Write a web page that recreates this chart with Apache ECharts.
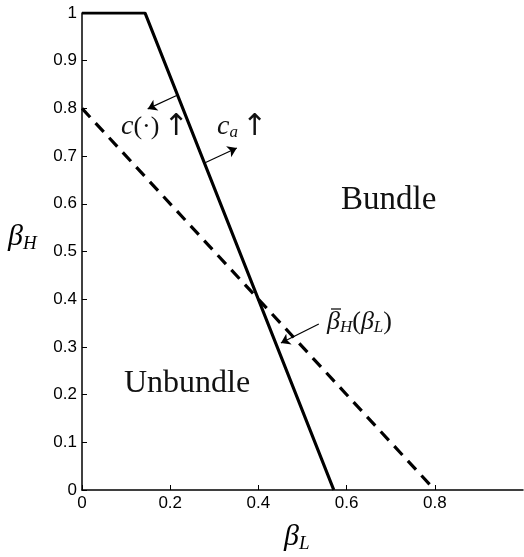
<!DOCTYPE html>
<html>
<head>
<meta charset="utf-8">
<script src="https://cdn.jsdelivr.net/npm/echarts@6/dist/echarts.min.js"></script>
<style>
  html, body { margin: 0; padding: 0; background: #fff; }
  #main { width: 524px; height: 557px; }
</style>
</head>
<body>
<div id="main"></div>
<script>
// threshold curves (beta_L, beta_H)
var solidCurve = [[0, 1], [0.143, 1], [0.571, 0]];
var dashedCurve = [[0, 0.8], [0.8, 0]];
// annotation arrows, from -> to, in data units
var arrowCost = [[0.217, 0.828], [0.149, 0.799]];
var arrowCa = [[0.279, 0.686], [0.351, 0.717]];
var arrowBar = [[0.537, 0.348], [0.451, 0.308]];

var serif = "'Liberation Serif', 'DejaVu Serif', serif";
var sans = "'Liberation Sans', Arial, sans-serif";
var ink = "#111";

var chart = echarts.init(document.getElementById("main"));

function arrow(a) {
  return [{ coord: a[0] }, { coord: a[1] }];
}

function tickFmt(v) {
  return String(+v.toFixed(1));
}

var upArrow = { fontSize: 30, fontFamily: "'DejaVu Sans', sans-serif", fill: ink, padding: [0, 0, 0, 4] };

chart.setOption({
  animation: false,
  grid: { left: 82, top: 13, right: 1, bottom: 67 },
  xAxis: {
    type: "value",
    min: 0,
    max: 1,
    interval: 0.2,
    axisLine: { lineStyle: { color: "#000", width: 1.5 } },
    axisTick: { inside: true, length: 5, lineStyle: { color: "#000" } },
    axisLabel: {
      color: "#000",
      fontFamily: sans,
      fontSize: 17,
      margin: 5,
      showMaxLabel: false,
      formatter: tickFmt
    },
    splitLine: { show: false }
  },
  yAxis: {
    type: "value",
    min: 0,
    max: 1,
    interval: 0.1,
    axisLine: { show: true, lineStyle: { color: "#000", width: 1.5 } },
    axisTick: { show: true, inside: true, length: 5, lineStyle: { color: "#000" } },
    axisLabel: {
      color: "#000",
      fontFamily: sans,
      fontSize: 17,
      margin: 5,
      formatter: tickFmt
    },
    splitLine: { show: false }
  },
  series: [
    {
      type: "line",
      data: solidCurve,
      symbol: "none",
      lineStyle: { color: "#000", width: 3.2 },
      markLine: {
        silent: true,
        symbol: ["none", "arrow"],
        symbolSize: 9,
        label: { show: false },
        lineStyle: { color: "#000", width: 1.2, type: "solid" },
        data: [arrow(arrowCost), arrow(arrowCa), arrow(arrowBar)]
      }
    },
    {
      type: "line",
      data: dashedCurve,
      symbol: "none",
      lineStyle: { color: "#000", width: 3.2, type: [12, 8] }
    }
  ],
  graphic: [
    {
      type: "text", left: 121, top: 112,
      style: {
        text: "{i|c}(·){u|↑}",
        font: "26px " + serif,
        fill: ink,
        rich: { i: { fontStyle: "italic", fontSize: 28, fontFamily: serif, fill: ink }, u: upArrow }
      }
    },
    {
      type: "text", left: 217, top: 112,
      style: {
        text: "{i|c}{s|a}{u|↑}",
        font: "26px " + serif,
        fill: ink,
        rich: {
          i: { fontStyle: "italic", fontSize: 28, fontFamily: serif, fill: ink },
          s: { fontStyle: "italic", fontSize: 17, fontFamily: serif, fill: ink, padding: [12, 0, 0, 0] },
          u: upArrow
        }
      }
    },
    {
      type: "text", left: 341, top: 184,
      style: { text: "Bundle", font: "33px " + serif, fill: ink }
    },
    {
      type: "text", left: 124, top: 368,
      style: { text: "Unbundle", font: "32px " + serif, fill: ink }
    },
    {
      type: "text", left: 327, top: 309,
      style: {
        text: "β{s|H}{p|(}β{s|L}{p|)}",
        font: "italic 26px " + serif,
        fill: ink,
        rich: {
          s: { fontStyle: "italic", fontSize: 17, fontFamily: serif, fill: ink, padding: [11, 0, 0, 0] },
          p: { fontSize: 26, fontFamily: serif, fill: ink }
        }
      }
    },
    {
      type: "line",
      shape: { x1: 331, y1: 309, x2: 341, y2: 309 },
      style: { stroke: ink, lineWidth: 1.3 }
    },
    {
      type: "text", left: 8, top: 222,
      style: {
        text: "β{s|H}",
        font: "italic 30px " + serif,
        fill: "#000",
        rich: { s: { fontStyle: "italic", fontSize: 19, fontFamily: serif, fill: "#000", padding: [13, 0, 0, 0] } }
      }
    },
    {
      type: "text", left: 284, top: 522,
      style: {
        text: "β{s|L}",
        font: "italic 30px " + serif,
        fill: "#000",
        rich: { s: { fontStyle: "italic", fontSize: 19, fontFamily: serif, fill: "#000", padding: [13, 0, 0, 0] } }
      }
    }
  ]
});
</script>
</body>
</html>
